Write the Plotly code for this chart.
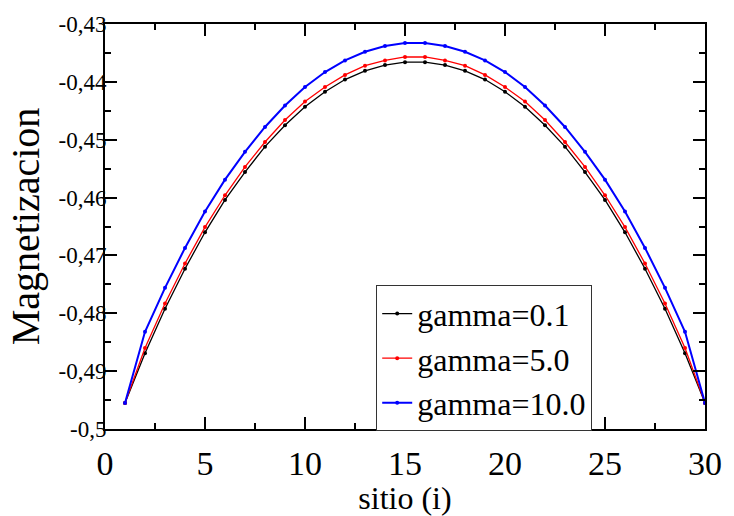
import plotly.graph_objects as go

# Site index along the chain
sitio = list(range(1, 31))

# Magnetization per site for each gamma
mag_g01 = [-0.4955, -0.4869, -0.4792, -0.4723, -0.4660, -0.4604, -0.4556, -0.4512,
           -0.4475, -0.4443, -0.4417, -0.4396, -0.4381, -0.4371, -0.4366,
           -0.4366, -0.4371, -0.4381, -0.4396, -0.4417, -0.4443, -0.4475,
           -0.4512, -0.4556, -0.4604, -0.4660, -0.4723, -0.4792, -0.4869, -0.4955]
mag_g50 = [-0.4955, -0.4860, -0.4783, -0.4714, -0.4651, -0.4596, -0.4547, -0.4504,
           -0.4466, -0.4434, -0.4409, -0.4388, -0.4372, -0.4363, -0.4357,
           -0.4357, -0.4363, -0.4372, -0.4388, -0.4409, -0.4434, -0.4466,
           -0.4504, -0.4547, -0.4596, -0.4651, -0.4714, -0.4783, -0.4860, -0.4955]
mag_g100 = [-0.4955, -0.4832, -0.4756, -0.4687, -0.4624, -0.4569, -0.4521, -0.4478,
            -0.4441, -0.4409, -0.4383, -0.4363, -0.4348, -0.4338, -0.4333,
            -0.4333, -0.4338, -0.4348, -0.4363, -0.4383, -0.4409, -0.4441,
            -0.4478, -0.4521, -0.4569, -0.4624, -0.4687, -0.4756, -0.4832, -0.4955]

series_names = ["gamma=0.1", "gamma=5.0", "gamma=10.0"]
series_vals = [mag_g01, mag_g50, mag_g100]
series_colors = ["#000000", "#ff0000", "#0000ff"]
series_widths = [1.3, 1.3, 2.0]

x_tickvals = [0, 5, 10, 15, 20, 25, 30]
x_ticktext = ["0", "5", "10", "15", "20", "25", "30"]
y_tickvals = [-0.50, -0.49, -0.48, -0.47, -0.46, -0.45, -0.44, -0.43]
y_ticktext = ["-0,5", "-0,49", "-0,48", "-0,47", "-0,46", "-0,45", "-0,44", "-0,43"]

SERIF = "Liberation Serif"

fig = go.Figure()
for name, vals, col, w in zip(series_names, series_vals, series_colors, series_widths):
    fig.add_trace(go.Scatter(
        x=sitio, y=vals, name=name, mode="lines+markers",
        line=dict(color=col, width=w),
        marker=dict(color=col, size=4, symbol="circle"),
    ))

fig.update_layout(
    width=734, height=516,
    margin=dict(l=105, r=19, t=19, b=70),
    paper_bgcolor="white", plot_bgcolor="white",
    font=dict(family=SERIF, color="black", size=32),
    showlegend=True,
    legend=dict(
        x=0.452, y=0.355, xanchor="left", yanchor="top",
        bgcolor="white", bordercolor="#333333", borderwidth=1,
        font=dict(family=SERIF, size=32, color="black"),
        itemwidth=30, tracegroupgap=0,
    ),
)

for upd in (fig.update_xaxes, fig.update_yaxes):
    upd(showline=True, linecolor="black", linewidth=2, mirror="allticks",
        ticks="inside", tickcolor="black", tickwidth=1.5, ticklen=12,
        showgrid=False, zeroline=False)

fig.update_xaxes(
    range=[0, 30], tickmode="array", tickvals=x_tickvals, ticktext=x_ticktext,
    tickfont=dict(family=SERIF, size=34, color="black"), ticklabelstandoff=3,
    minor=dict(ticks="inside", ticklen=6, dtick=2.5, tickcolor="black", tickwidth=1.5),
    title=dict(text="sitio (i)", font=dict(family=SERIF, size=32, color="black"), standoff=0),
)
fig.update_yaxes(
    range=[-0.50, -0.43], tickmode="array", tickvals=y_tickvals, ticktext=y_ticktext,
    tickfont=dict(family=SERIF, size=23, color="black"), ticklabelstandoff=-8,
    minor=dict(ticks="inside", ticklen=6, dtick=0.005, tickcolor="black", tickwidth=1.5),
    title=dict(text="Magnetizacion", font=dict(family=SERIF, size=40, color="black"), standoff=6),
)

fig.write_html("out.html")
